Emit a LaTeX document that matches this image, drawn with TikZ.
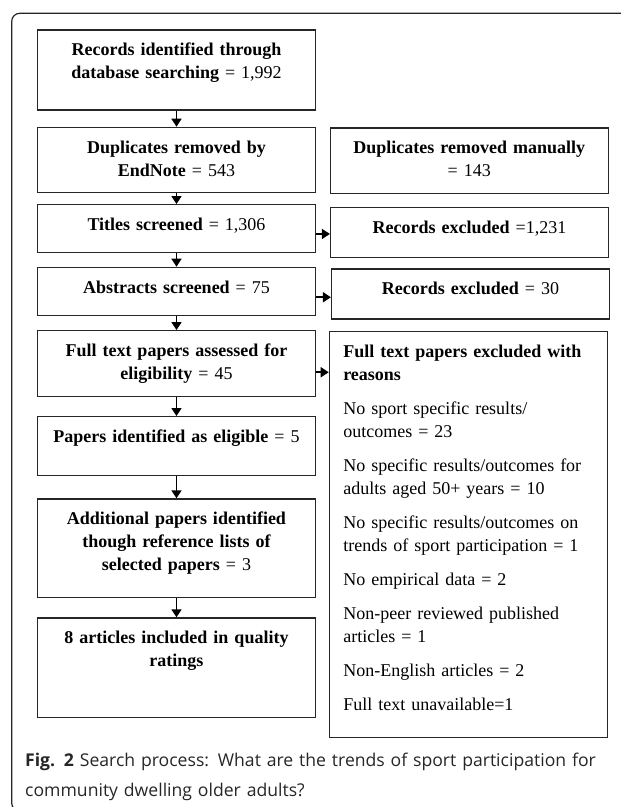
\documentclass[tikz,border=0pt]{standalone}
\usepackage{fontspec}
\setmainfont{Liberation Serif}
\setsansfont{Open Sans}
\usepackage{tikz}
\usetikzlibrary{
	arrows.meta,
	calc,
	positioning,
}
\tikzset{stepbox/.style={
	draw=black!85,
	rectangle,
	anchor=north,
	text width=250pt,
	inner xsep=14pt,
	inner ysep=0pt,
	text height=26pt,
	align=center,
	line width=1.2pt,
	font=\fontsize{18}{23}\selectfont,
}}
\tikzset{flow/.style={
	-{Triangle[width=10pt,length=8pt]},
	line width=1.7pt,
}}

\begin{document}
\begin{tikzpicture}[x=1pt,y=-1pt]
\useasboundingbox (0,0) rectangle (621,807);

% frame
\draw[line width=1.2pt, black!85, rounded corners=8pt] (640,13.3) -- (11.7,13.3) -- (11.7,811) -- (640,811);

\node(b1)[stepbox, text depth=54pt] at (176.5,29.3) {\textbf{Records identified through}\\\textbf{database searching} = 1,992};
\node(b2)[stepbox, text depth=39pt] at (176.5,126.7) {\textbf{Duplicates removed by}\\\textbf{EndNote} = 543};
\node(b3)[stepbox, text depth=21.7pt] at (176.5,204) {\textbf{Titles screened} = 1,306};
\node(b4)[stepbox, text depth=22.3pt] at (176.5,266.7) {\textbf{Abstracts screened} = 75};
\node(b5)[stepbox, text depth=39.7pt] at (176.5,330) {\textbf{Full text papers assessed for}\\\textbf{eligibility} = 45};
\node(b6)[stepbox, text depth=33pt] at (176.5,416) {\textbf{Papers identified as eligible} = 5};
\node(b7)[stepbox, text depth=72.4pt] at (176.5,498.3) {\textbf{Additional papers identified}\\\textbf{though reference lists of}\\\textbf{selected papers} = 3};
\node(b8)[stepbox, text depth=73.4pt] at (176.5,617.3) {\textbf{8 articles included in quality}\\\textbf{ratings}};

\node(r1)[stepbox, text depth=39.4pt] at (469.2,127.3) {\textbf{Duplicates removed manually}\\= 143};
\node(r2)[stepbox, text depth=24pt] at (469.5,206.7) {\textbf{Records excluded} =1,231};
\node(r3)[stepbox, text depth=24pt] at (470.5,268.3) {\textbf{Records excluded} = 30};
\node(r4)[stepbox, align=left, text depth=379.7pt] at (468.3,331) {\textbf{Full text papers excluded with}\\\textbf{reasons}\\[11pt]
No sport specific results/\\outcomes = 23\\[11pt]
No specific results/outcomes for\\adults aged 50+ years = 10\\[11pt]
No specific results/outcomes on\\trends of sport participation = 1\\[11pt]
No empirical data = 2\\[11pt]
Non-peer reviewed published\\articles = 1\\[11pt]
Non-English articles = 2\\[11pt]
Full text unavailable=1};

\foreach \i/\j in {1/2,2/3,3/4,4/5,5/6,6/7,7/8}
\draw[flow] (b\i.south) -- (b\j.north);

\draw[flow] ([yshift=-5.5pt]b3.east) -- ([yshift=-5.5pt]b3.east -| r2.west);
\draw[flow] ([yshift=-5.8pt]b4.east) -- ([yshift=-5.8pt]b4.east -| r3.west);
\draw[flow] ([yshift=-8.8pt]b5.east) -- ([yshift=-8.8pt]b5.east -| r4.west);

\node(cap)[anchor=base west, text width=600pt, align=left, inner sep=0pt, text=black!85, font=\sffamily\fontsize{17.6}{30}\selectfont] at (25,766.7) {\textbf{Fig. 2} Search process: What are the trends of sport participation for\\community dwelling older adults?};

\end{tikzpicture}
\end{document}
